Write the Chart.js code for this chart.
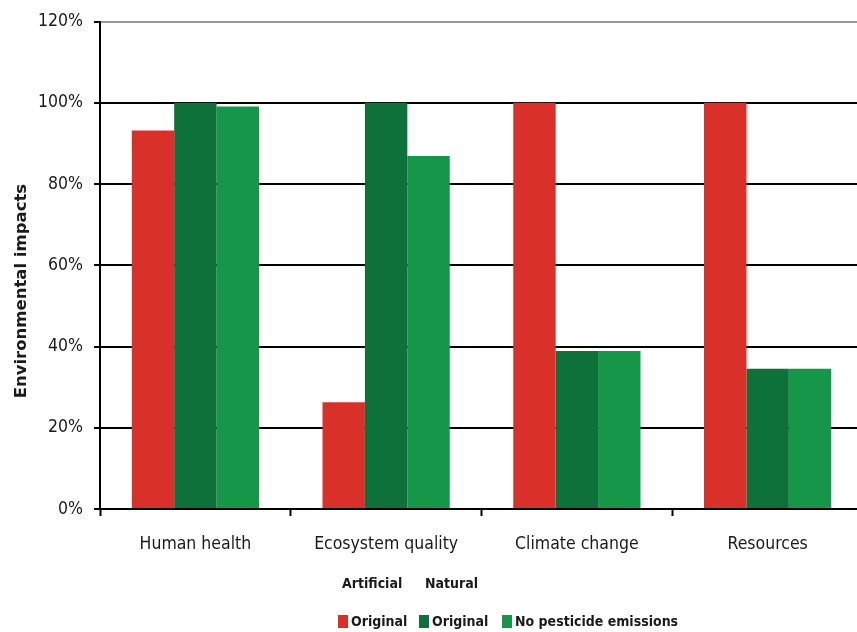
<!DOCTYPE html>
<html>
<head>
<meta charset="utf-8">
<script src="https://cdn.jsdelivr.net/npm/chart.js@4"></script>
<style>
  html, body { margin: 0; padding: 0; background: #fff; overflow: hidden; }
  #wrap { width: 866px; height: 632px; }
</style>
</head>
<body>
<div id="wrap"><canvas id="c" width="866" height="632"></canvas></div>
<script>
// Impact categories along the x axis
const categories = ['Human health', 'Ecosystem quality', 'Climate change', 'Resources'];

// Relative environmental impacts (%)
const artificialOriginal = [93.2, 26.3, 100, 100];
const naturalOriginal = [100, 100, 38.9, 34.5];
const naturalNoPesticide = [99.1, 86.9, 38.9, 34.5];

// Legend text: group headings and series names
const groupLabels = ['Artificial', 'Natural'];
const seriesLabels = ['Original', 'Original', 'No pesticide emissions'];

// Y axis tick values
const yTicks = [0, 20, 40, 60, 80, 100, 120];

const colors = ['#D9302A', '#0E7139', '#159648'];
const condensed = '"DejaVu Sans Condensed", "DejaVu Sans", sans-serif';

// Two-level legend below the axis plus the rotated y title
const decorations = {
  id: 'decorations',
  afterDraw(chart) {
    const ctx = chart.ctx;
    const area = chart.chartArea;
    ctx.save();

    // y axis title
    ctx.fillStyle = '#1a1a1a';
    ctx.font = 'bold 16.5px "DejaVu Sans", sans-serif';
    ctx.textAlign = 'center';
    ctx.textBaseline = 'middle';
    ctx.translate(22, area.top + (area.bottom - area.top) * 0.553);
    ctx.rotate(-Math.PI / 2);
    ctx.fillText('Environmental impacts', 0, 0);
    ctx.restore();

    // legend row
    ctx.save();
    ctx.font = 'bold 14px ' + condensed;
    ctx.textBaseline = 'middle';
    ctx.textAlign = 'left';
    const rowY = 622;
    const boxX = [338, 419, 502];
    chart.data.datasets.forEach((ds, i) => {
      ctx.fillStyle = ds.backgroundColor;
      ctx.fillRect(boxX[i], rowY - 7, 10, 13);
      ctx.fillStyle = '#1a1a1a';
      ctx.fillText(ds.label, boxX[i] + 13, rowY);
    });

    // group headings above the legend row
    ctx.fillText(groupLabels[0], boxX[0] + 4, 584);
    ctx.fillText(groupLabels[1], boxX[1] + 6, 584);
    ctx.restore();
  }
};

new Chart(document.getElementById('c'), {
  type: 'bar',
  data: {
    labels: categories,
    datasets: [
      { label: seriesLabels[0], data: artificialOriginal, backgroundColor: colors[0] },
      { label: seriesLabels[1], data: naturalOriginal, backgroundColor: colors[1] },
      { label: seriesLabels[2], data: naturalNoPesticide, backgroundColor: colors[2] }
    ]
  },
  options: {
    responsive: false,
    animation: false,
    devicePixelRatio: 1,
    layout: { padding: { left: 27, right: 3, top: 15, bottom: 59 } },
    datasets: { bar: { barPercentage: 1.0, categoryPercentage: 0.667 } },
    plugins: {
      legend: { display: false },
      tooltip: { enabled: false }
    },
    scales: {
      x: {
        grid: {
          offset: true,
          drawOnChartArea: false,
          drawTicks: true,
          tickLength: 7,
          tickColor: '#000',
          tickWidth: 2
        },
        border: { color: '#000', width: 2 },
        ticks: {
          color: '#1a1a1a',
          padding: 18,
          font: { family: condensed, size: 17.5 }
        }
      },
      y: {
        min: 0,
        max: 120,
        afterBuildTicks(scale) {
          scale.ticks = yTicks.map(v => ({ value: v }));
        },
        grid: {
          color: ctx => (ctx.tick && ctx.tick.value === 120) ? '#9a9a9a' : '#000',
          lineWidth: 2,
          drawTicks: true,
          tickLength: 6,
          tickColor: '#000',
          tickWidth: 2
        },
        border: { color: '#000', width: 2 },
        ticks: {
          color: '#1a1a1a',
          padding: 11,
          font: { family: condensed, size: 17.5 },
          callback: v => v + '%'
        }
      }
    }
  },
  plugins: [decorations]
});
</script>
</body>
</html>
